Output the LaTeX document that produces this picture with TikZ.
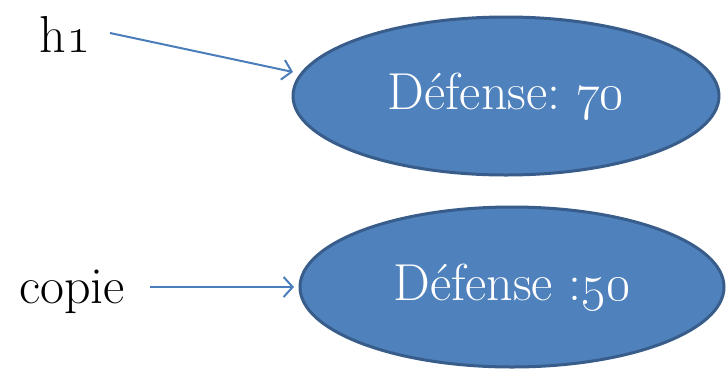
\RequirePackage{fix-cm}
\documentclass[tikz,border=0pt]{standalone}
\usetikzlibrary{arrows.meta,shapes.geometric}
\definecolor{fillblue}{HTML}{4F81BD}
\definecolor{edgeblue}{HTML}{385D8A}
\definecolor{arrowblue}{HTML}{4A7EBB}
\begin{document}
\begin{tikzpicture}[x=1pt,y=-1pt,
  blob/.style={ellipse,draw=edgeblue,fill=fillblue,line width=3pt,
    text=white,inner sep=0pt,font=\fontsize{52}{60}\selectfont},
  lbl/.style={anchor=base,font=\fontsize{52}{60}\selectfont,inner sep=0pt},
  ptr/.style={draw=arrowblue,line width=2pt,
    -{Straight Barb[length=9pt,width=20pt,line width=2pt]}}]
\useasboundingbox (0,0) rectangle (728,368);
\node[blob,minimum width=426pt,minimum height=158pt] (e1) at (506,96) {D\'efense:\kern-6pt{} \oldstylenums{70}};
\node[blob,minimum width=424pt,minimum height=160pt] (e2) at (512,287) {D\'efense :\oldstylenums{50}};
\node[lbl] (h1) at (65,52) {h\oldstylenums{1}};
\node[lbl] (cp) at (72,303) {copie};
\coordinate (h1s) at (110,33);
\coordinate (h1e) at (293,72);
\coordinate (cps) at (150,287);
\coordinate (cpe) at (294,287);
\draw[ptr] (h1s) -- (h1e);
\draw[ptr] (cps) -- (cpe);
\end{tikzpicture}
\end{document}
